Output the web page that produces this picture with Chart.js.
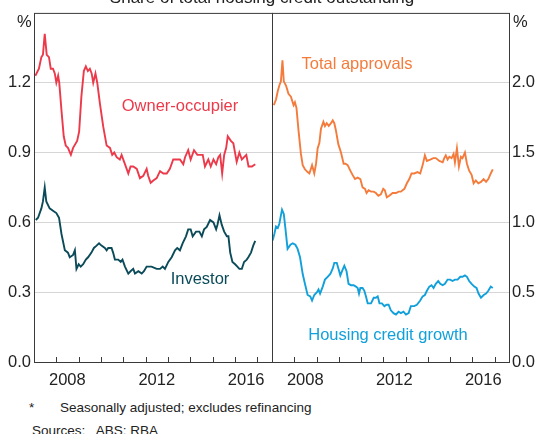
<!DOCTYPE html>
<html>
<head>
<meta charset="utf-8">
<script src="https://cdn.jsdelivr.net/npm/chart.js@4.4.1/dist/chart.umd.min.js"></script>
<style>
  html, body { margin: 0; padding: 0; background: #fff; }
  body { width: 537px; height: 434px; overflow: hidden; position: relative; font-family: "Liberation Sans", Arial, sans-serif; color: #222; }
  .panel { position: absolute; top: 0; height: 392px; }
  #leftBox { left: 0; width: 280px; }
  #rightBox { left: 262px; width: 275px; }
  .txt { position: absolute; white-space: nowrap; font-size: 16.5px; line-height: 16px; }
  .lbl { transform: translateX(-50%); }
  .note { position: absolute; white-space: nowrap; font-size: 13.5px; line-height: 13.5px; }
</style>
</head>
<body>
<div class="panel" id="leftBox"><canvas id="leftChart"></canvas></div>
<div class="panel" id="rightBox"><canvas id="rightChart"></canvas></div>

<div class="txt lbl" style="left:262px; top:-10px; font-size:17px;">Share of total housing credit outstanding</div>
<div class="txt" style="left:17px; top:13px;">%</div>
<div class="txt" style="left:513px; top:13px;">%</div>

<div class="txt lbl" style="left:180px; top:97px; color:#ec3a4b;">Owner-occupier</div>
<div class="txt lbl" style="left:200px; top:270px; color:#0b4b59;">Investor</div>
<div class="txt lbl" style="left:357px; top:55px; color:#f47b3b;">Total approvals</div>
<div class="txt lbl" style="left:388px; top:326px; color:#12a0da;">Housing credit growth</div>

<div class="note" style="left:29px; top:401px;">*</div>
<div class="note" style="left:60px; top:401px;">Seasonally adjusted; excludes refinancing</div>
<div class="note" style="left:32px; top:424px;">Sources:&nbsp;&nbsp; ABS; RBA</div>

<script>
// Values (decimal years, per cent).
const yearTicks = [2007, 2008, 2009, 2010, 2011, 2012, 2013, 2014, 2015, 2016, 2017];
const labelYears = [2008, 2012, 2016];
const leftTicks = [0, 0.3, 0.6, 0.9, 1.2, 1.5];
const rightTicks = [0, 0.5, 1.0, 1.5, 2.0, 2.5];

const ownerDates = [2007.06, 2007.22, 2007.33, 2007.40, 2007.48, 2007.57, 2007.67, 2007.75, 2007.85, 2007.93,
  2008.00, 2008.08, 2008.13, 2008.23, 2008.33, 2008.42, 2008.52, 2008.65, 2008.75, 2008.93,
  2009.02, 2009.12, 2009.23, 2009.32, 2009.41, 2009.50, 2009.58, 2009.65, 2009.75, 2009.83, 2009.95,
  2010.10, 2010.25, 2010.40, 2010.50, 2010.59, 2010.70, 2010.84, 2010.92,
  2011.07, 2011.22, 2011.32, 2011.44, 2011.60, 2011.74, 2011.89,
  2012.04, 2012.11, 2012.22, 2012.34, 2012.49, 2012.64, 2012.79, 2012.94,
  2013.08, 2013.23, 2013.38, 2013.53, 2013.68, 2013.76, 2013.90,
  2014.01, 2014.16, 2014.31, 2014.43, 2014.55, 2014.65, 2014.80, 2014.91,
  2015.03, 2015.15, 2015.25, 2015.33, 2015.42, 2015.51, 2015.60, 2015.67, 2015.81, 2015.92,
  2016.07, 2016.19, 2016.30, 2016.50, 2016.60, 2016.75, 2016.90];
const ownerValues = [1.23, 1.26, 1.31, 1.32, 1.41, 1.32, 1.31, 1.26, 1.26, 1.24,
  1.20, 1.23, 1.20, 1.08, 0.97, 0.93, 0.92, 0.89, 0.92, 0.95,
  0.99, 1.14, 1.25, 1.27, 1.25, 1.26, 1.24, 1.20, 1.24, 1.20, 1.11,
  1.01, 0.93, 0.92, 0.89, 0.90, 0.88, 0.87, 0.89,
  0.85, 0.81, 0.84, 0.84, 0.83, 0.79, 0.80,
  0.83, 0.80, 0.77, 0.78, 0.79, 0.82, 0.81, 0.81,
  0.83, 0.87, 0.87, 0.87, 0.85, 0.88, 0.91,
  0.87, 0.91, 0.89, 0.89, 0.89, 0.84, 0.87, 0.84,
  0.87, 0.85, 0.88, 0.89, 0.81, 0.89, 0.92, 0.97, 0.95, 0.94,
  0.86, 0.90, 0.87, 0.89, 0.84, 0.84, 0.85];

const investorDates = [2007.08, 2007.18, 2007.33, 2007.40, 2007.48, 2007.55, 2007.70, 2007.85,
  2008.00, 2008.12, 2008.23, 2008.38, 2008.52, 2008.60, 2008.75, 2008.83, 2008.90,
  2009.00, 2009.09, 2009.20, 2009.32, 2009.42, 2009.57, 2009.68, 2009.80, 2009.91,
  2010.02, 2010.17, 2010.25, 2010.32, 2010.47, 2010.54, 2010.62, 2010.77, 2010.88, 2010.96,
  2011.07, 2011.22, 2011.32, 2011.44, 2011.52, 2011.67, 2011.82, 2011.92,
  2012.04, 2012.26, 2012.49, 2012.64, 2012.76, 2012.86,
  2013.01, 2013.16, 2013.31, 2013.41, 2013.53, 2013.65, 2013.80, 2013.90,
  2014.01, 2014.10, 2014.25, 2014.40, 2014.51, 2014.61, 2014.73, 2014.88,
  2015.03, 2015.15, 2015.21, 2015.30, 2015.40, 2015.51, 2015.63, 2015.70, 2015.78, 2015.88,
  2016.00, 2016.10, 2016.19, 2016.30, 2016.40, 2016.52, 2016.59, 2016.71, 2016.81, 2016.90];
const investorValues = [0.61, 0.62, 0.66, 0.69, 0.75, 0.69, 0.66, 0.65,
  0.64, 0.62, 0.55, 0.48, 0.47, 0.45, 0.46, 0.48, 0.40,
  0.42, 0.41, 0.42, 0.44, 0.45, 0.47, 0.49, 0.50, 0.51,
  0.50, 0.49, 0.48, 0.49, 0.49, 0.47, 0.44, 0.44, 0.43, 0.44,
  0.41, 0.38, 0.39, 0.40, 0.38, 0.39, 0.38, 0.39,
  0.41, 0.41, 0.40, 0.40, 0.41, 0.40,
  0.43, 0.45, 0.48, 0.49, 0.48, 0.51, 0.54, 0.57,
  0.57, 0.54, 0.56, 0.56, 0.54, 0.57, 0.58, 0.61,
  0.60, 0.57, 0.59, 0.63, 0.59, 0.56, 0.54, 0.54, 0.47, 0.43,
  0.42, 0.41, 0.40, 0.40, 0.43, 0.44, 0.45, 0.47, 0.50, 0.52];

const approvalsDates = [2007.08, 2007.18, 2007.26, 2007.33, 2007.40, 2007.47, 2007.53, 2007.63, 2007.74, 2007.85, 2007.97,
  2008.03, 2008.10, 2008.19, 2008.30, 2008.38, 2008.48, 2008.60, 2008.68, 2008.80, 2008.90, 2008.98,
  2009.05, 2009.13, 2009.20, 2009.31, 2009.38, 2009.46, 2009.55, 2009.65, 2009.73, 2009.80, 2009.87, 2009.98,
  2010.10, 2010.22, 2010.30, 2010.40, 2010.52, 2010.62, 2010.73, 2010.85, 2010.97,
  2011.07, 2011.18, 2011.25, 2011.34, 2011.45, 2011.57, 2011.67, 2011.78, 2011.89,
  2012.00, 2012.07, 2012.16, 2012.27, 2012.42, 2012.57, 2012.69, 2012.79, 2012.95,
  2013.06, 2013.17, 2013.27, 2013.39, 2013.54, 2013.66, 2013.77, 2013.87, 2013.96,
  2014.11, 2014.25, 2014.36, 2014.52, 2014.67, 2014.74, 2014.81, 2014.89, 2014.97,
  2015.07, 2015.16, 2015.22, 2015.31, 2015.40, 2015.49, 2015.56, 2015.67, 2015.76, 2015.86, 2015.97,
  2016.06, 2016.16, 2016.27, 2016.39, 2016.51, 2016.62, 2016.72, 2016.83, 2016.92];
const approvalsValues = [1.84, 1.88, 1.94, 1.98, 2.01, 2.16, 2.01, 1.98, 1.92, 1.90, 1.84,
  1.86, 1.82, 1.66, 1.49, 1.41, 1.38, 1.36, 1.35, 1.41, 1.35, 1.42,
  1.53, 1.57, 1.67, 1.72, 1.69, 1.71, 1.69, 1.71, 1.73, 1.71, 1.66, 1.56,
  1.50, 1.42, 1.42, 1.41, 1.37, 1.34, 1.31, 1.32, 1.31,
  1.25, 1.24, 1.21, 1.23, 1.22, 1.22, 1.21, 1.19, 1.20,
  1.24, 1.23, 1.18, 1.19, 1.21, 1.21, 1.22, 1.22, 1.24,
  1.28, 1.31, 1.35, 1.35, 1.36, 1.35, 1.41, 1.48, 1.44,
  1.45, 1.46, 1.46, 1.44, 1.43, 1.46, 1.48, 1.45, 1.47,
  1.46, 1.49, 1.43, 1.53, 1.40, 1.47, 1.46, 1.50, 1.42, 1.37, 1.34,
  1.28, 1.30, 1.28, 1.29, 1.31, 1.29, 1.31, 1.35, 1.38];

const creditDates = [2007.03, 2007.11, 2007.18, 2007.26, 2007.33, 2007.40, 2007.45, 2007.53, 2007.60, 2007.70, 2007.83, 2007.93,
  2008.05, 2008.15, 2008.26, 2008.38, 2008.48, 2008.60, 2008.72, 2008.80, 2008.90,
  2009.02, 2009.09, 2009.16, 2009.28, 2009.38, 2009.50, 2009.62, 2009.73, 2009.80, 2009.91,
  2010.00, 2010.07, 2010.17, 2010.25, 2010.35, 2010.44, 2010.55, 2010.67, 2010.77, 2010.85, 2010.91, 2010.97,
  2011.07, 2011.15, 2011.22, 2011.30, 2011.45, 2011.57, 2011.67, 2011.75, 2011.83, 2011.94,
  2012.05, 2012.15, 2012.24, 2012.34, 2012.46, 2012.57, 2012.69, 2012.79, 2012.91,
  2013.02, 2013.14, 2013.24, 2013.39, 2013.51, 2013.66, 2013.77, 2013.87, 2013.96,
  2014.07, 2014.17, 2014.26, 2014.36, 2014.47, 2014.56, 2014.67, 2014.77, 2014.89,
  2015.01, 2015.11, 2015.22, 2015.34, 2015.46, 2015.56, 2015.67, 2015.76, 2015.86, 2015.97,
  2016.09, 2016.19, 2016.28, 2016.39, 2016.51, 2016.62, 2016.72, 2016.83, 2016.92];
const creditValues = [0.87, 0.92, 0.97, 0.96, 0.99, 1.05, 1.09, 1.06, 0.96, 0.81, 0.84, 0.85,
  0.84, 0.81, 0.75, 0.63, 0.56, 0.48, 0.47, 0.44, 0.48,
  0.50, 0.52, 0.49, 0.54, 0.59, 0.61, 0.63, 0.67, 0.71, 0.71,
  0.66, 0.62, 0.66, 0.69, 0.65, 0.56, 0.55, 0.55, 0.54, 0.53, 0.49, 0.53,
  0.53, 0.51, 0.47, 0.42, 0.42, 0.46, 0.46, 0.47, 0.42, 0.42,
  0.40, 0.41, 0.41, 0.37, 0.35, 0.34, 0.36, 0.35, 0.36,
  0.34, 0.35, 0.40, 0.40, 0.41, 0.44, 0.47, 0.48, 0.51,
  0.54, 0.55, 0.53, 0.56, 0.58, 0.56, 0.55, 0.56, 0.59,
  0.59, 0.58, 0.59, 0.59, 0.61, 0.61, 0.62, 0.61, 0.58, 0.56,
  0.54, 0.53, 0.49, 0.46, 0.48, 0.49, 0.51, 0.54, 0.53];

const FONT = { family: '"Liberation Sans", Arial, sans-serif', size: 16.5 };
const TEXT = '#222';
const GRID = '#d6d6d6';
const FRAME = '#3a3a3a';

function points(dates, values) {
    return dates.map((d, i) => ({ x: d, y: values[i] }));
}

// Frame round the plot area plus short year ticks pointing up from the x axis.
const framePlugin = {
    id: 'frame',
    afterDraw(chart) {
        const { ctx, chartArea: a } = chart;
        const xs = chart.scales.x;
        ctx.save();
        ctx.strokeStyle = FRAME;
        ctx.lineWidth = 1;
        ctx.strokeRect(a.left + 0.5, a.top + 0.5, a.right - a.left, a.bottom - a.top);
        ctx.beginPath();
        yearTicks.forEach(function (yr) {
            const px = Math.round(xs.getPixelForValue(yr)) + 0.5;
            ctx.moveTo(px, a.bottom);
            ctx.lineTo(px, a.bottom - 5);
        });
        ctx.stroke();
        ctx.restore();
    }
};

function makePanel(canvasId, datasets, yTicks, yPos, padding, yWidth) {
    const yMax = yTicks[yTicks.length - 1];
    return new Chart(document.getElementById(canvasId).getContext('2d'), {
        type: 'line',
        data: { datasets: datasets },
        options: {
            responsive: true,
            maintainAspectRatio: false,
            animation: false,
            devicePixelRatio: 1,
            layout: { padding: padding },
            plugins: { legend: { display: false }, tooltip: { enabled: false } },
            elements: { point: { radius: 0 }, line: { borderWidth: 1.9, tension: 0 } },
            scales: {
                x: {
                    type: 'linear',
                    min: 2007,
                    max: 2017.65,
                    afterBuildTicks: function (s) { s.ticks = yearTicks.map(v => ({ value: v })); },
                    afterFit: function (s) { s.height = 30; },
                    grid: { display: false, drawTicks: false },
                    border: { display: false },
                    ticks: {
                        autoSkip: false,
                        maxRotation: 0,
                        padding: 9,
                        labelOffset: 11,
                        color: TEXT,
                        font: FONT,
                        callback: v => labelYears.includes(v) ? String(v) : ''
                    }
                },
                y: {
                    position: yPos,
                    min: 0,
                    max: yMax,
                    afterBuildTicks: function (s) { s.ticks = yTicks.map(v => ({ value: v })); },
                    afterFit: function (s) { s.width = yWidth; },
                    grid: {
                        drawTicks: false,
                        color: c => (c.tick.value === 0 || c.tick.value === yMax) ? 'rgba(0,0,0,0)' : GRID
                    },
                    border: { display: false },
                    ticks: {
                        padding: 3,
                        color: TEXT,
                        font: FONT,
                        callback: v => v === yMax ? '' : v.toFixed(1)
                    }
                }
            }
        },
        plugins: [framePlugin]
    });
}

makePanel('leftChart', [
    { label: 'Owner-occupier', data: points(ownerDates, ownerValues), borderColor: '#ec3a4b' },
    { label: 'Investor', data: points(investorDates, investorValues), borderColor: '#0b4b59' }
], leftTicks, 'left', { top: 12, right: 8, left: 0, bottom: 0 }, 34);

makePanel('rightChart', [
    { label: 'Total approvals', data: points(approvalsDates, approvalsValues), borderColor: '#f47b3b' },
    { label: 'Housing credit growth', data: points(creditDates, creditValues), borderColor: '#12a0da' }
], rightTicks, 'right', { top: 12, right: 0, left: 10, bottom: 0 }, 28);
</script>
</body>
</html>
